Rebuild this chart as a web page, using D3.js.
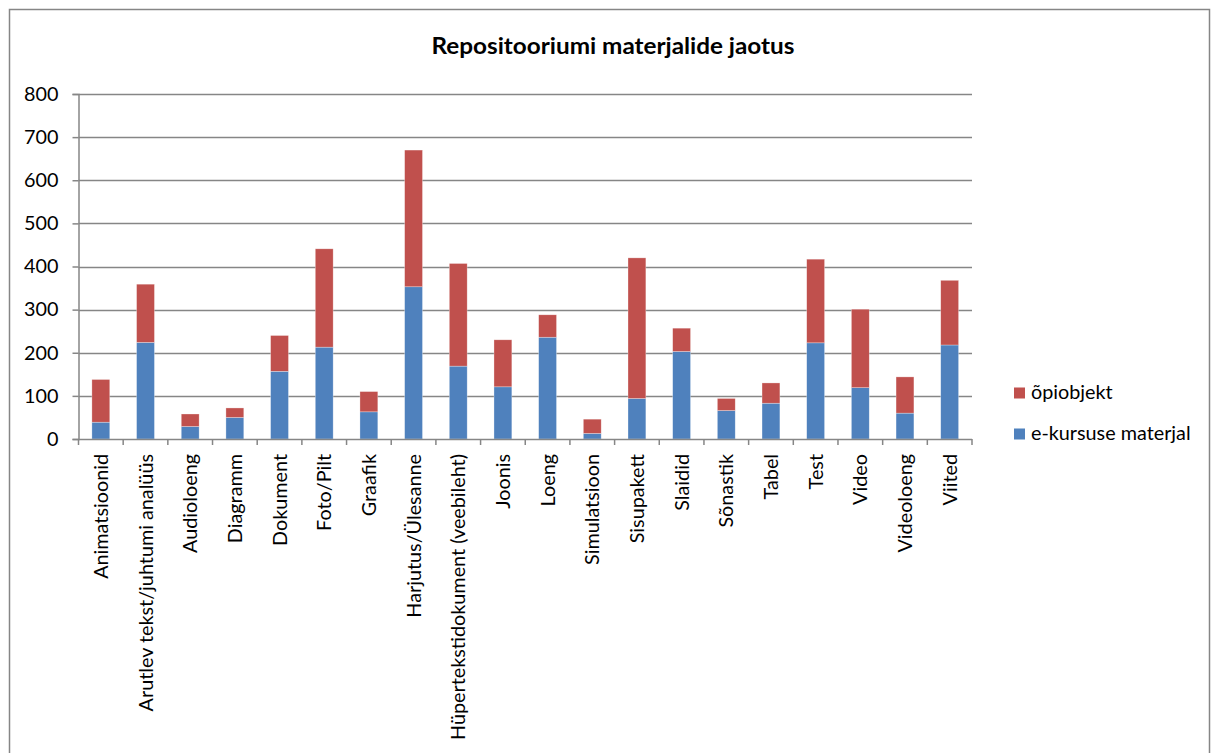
<!DOCTYPE html>
<html>
<head>
<meta charset="utf-8">
<script src="https://cdn.jsdelivr.net/npm/d3@7"></script>
<style>
  html, body { margin: 0; padding: 0; background: #fff; }
  svg { display: block; }
  text { font-family: Lato, "Open Sans", sans-serif; fill: #000; }
</style>
</head>
<body>
<svg id="chart" width="1214" height="753"></svg>
<script>
// Categories of repository materials
const categories = [
  "Animatsioonid", "Arutlev tekst/juhtumi analüüs", "Audioloeng", "Diagramm",
  "Dokument", "Foto/Pilt", "Graafik", "Harjutus/Ülesanne",
  "Hüpertekstidokument (veebileht)", "Joonis", "Loeng", "Simulatsioon",
  "Sisupakett", "Slaidid", "Sõnastik", "Tabel", "Test", "Video",
  "Videoloeng", "Viited"
];
// e-course material counts (bottom segment)
const eKursus = [39, 224, 29, 50, 157, 213, 63, 353, 169, 121, 236, 13, 94, 203, 66, 83, 223, 119, 60, 218];
// learning object counts (top segment)
const opiobjekt = [99, 135, 29, 22, 83, 228, 47, 317, 238, 109, 52, 33, 326, 54, 28, 47, 194, 182, 84, 150];
const yTicks = [0, 100, 200, 300, 400, 500, 600, 700, 800];
const seriesNames = ["e-kursuse materjal", "õpiobjekt"];
const colors = ["#4F81BD", "#C0504D"];

const FS = 19.8;
const svg = d3.select("#chart");
const margin = { left: 78.5, right: 972, top: 94, bottom: 439 };

// outer chart frame
svg.append("rect")
  .attr("x", 9.5).attr("y", 9.5)
  .attr("width", 1200).attr("height", 760)
  .attr("fill", "#fff").attr("stroke", "#868686").attr("stroke-width", 1.5);

// title
svg.append("text")
  .attr("x", 613).attr("y", 54)
  .attr("text-anchor", "middle")
  .attr("font-size", 22).attr("font-weight", "bold")
  .attr("textLength", 363).attr("lengthAdjust", "spacingAndGlyphs")
  .text("Repositooriumi materjalide jaotus");

const x = d3.scaleBand()
  .domain(categories)
  .range([margin.left, margin.right])
  .paddingInner(0.6).paddingOuter(0.3);

const y = d3.scaleLinear().domain([0, 800]).range([margin.bottom, margin.top]);

// gridlines
svg.append("g").selectAll("line").data(yTicks.filter(d => d > 0)).join("line")
  .attr("x1", margin.left).attr("x2", margin.right)
  .attr("y1", d => Math.round(y(d)) + 0.5).attr("y2", d => Math.round(y(d)) + 0.5)
  .attr("stroke", "#868686").attr("stroke-width", 1.5);

// stacked data
const rows = categories.map((c, i) => ({ cat: c, e: eKursus[i], o: opiobjekt[i] }));
const stack = d3.stack().keys(["e", "o"])(rows);

svg.append("g").selectAll("g").data(stack).join("g")
  .attr("fill", (d, i) => colors[i])
  .selectAll("rect").data(d => d).join("rect")
  .attr("x", d => x(d.data.cat))
  .attr("width", x.bandwidth())
  .attr("y", d => y(d[1]))
  .attr("height", d => y(d[0]) - y(d[1]))
  .attr("stroke", "rgba(255,255,255,0.5)").attr("stroke-width", 0.6);

// y axis
const yAxis = d3.axisLeft(y).tickValues(yTicks).tickSize(6).tickPadding(14);
const gy = svg.append("g").attr("transform", `translate(${margin.left},0)`).call(yAxis);
gy.select(".domain").attr("stroke", "#868686").attr("stroke-width", 1.5);
gy.selectAll(".tick line").attr("stroke", "#868686").attr("stroke-width", 1.5);
gy.selectAll(".tick text").attr("font-size", FS).attr("font-family", "Lato, sans-serif").attr("fill", "#000");

// x axis baseline and category separators
const step = x.step();
const bounds = d3.range(categories.length + 1).map(i => margin.left + i * step);
svg.append("line")
  .attr("x1", margin.left).attr("x2", margin.right)
  .attr("y1", margin.bottom + 0.5).attr("y2", margin.bottom + 0.5)
  .attr("stroke", "#868686").attr("stroke-width", 1.5);
svg.append("g").selectAll("line").data(bounds).join("line")
  .attr("x1", d => d).attr("x2", d => d)
  .attr("y1", margin.bottom).attr("y2", margin.bottom + 6)
  .attr("stroke", "#868686").attr("stroke-width", 1.5);

// rotated category labels
svg.append("g").selectAll("text").data(categories).join("text")
  .attr("transform", d => `translate(${x(d) + x.bandwidth() / 2 + FS * 0.36},${margin.bottom + 15}) rotate(-90)`)
  .attr("text-anchor", "end")
  .attr("font-size", FS)
  .text(d => d);

// legend
const legend = [
  { name: seriesNames[1], color: colors[1], y: 392 },
  { name: seriesNames[0], color: colors[0], y: 433 }
];
const lg = svg.append("g").selectAll("g").data(legend).join("g");
lg.append("rect")
  .attr("x", 1014).attr("y", d => d.y - 4.5)
  .attr("width", 11).attr("height", 11)
  .attr("fill", d => d.color);
lg.append("text")
  .attr("x", 1031).attr("y", d => d.y + 6.5)
  .attr("font-size", FS)
  .text(d => d.name);
</script>
</body>
</html>
